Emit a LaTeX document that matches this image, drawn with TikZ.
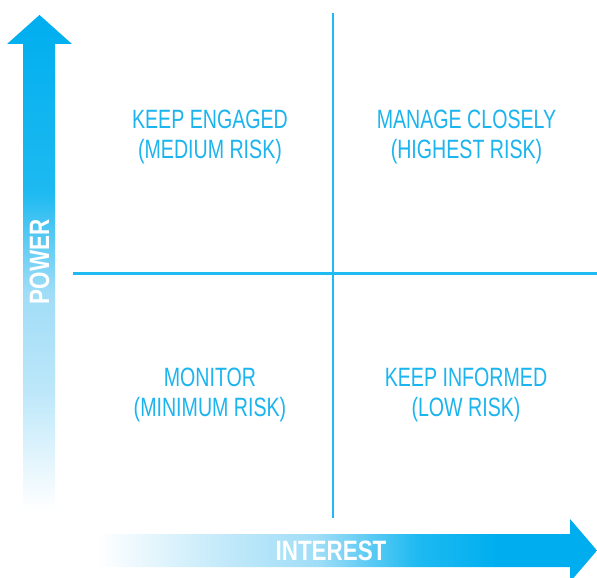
\documentclass[tikz,border=0pt]{standalone}
\usepackage{fontspec}
\setmainfont{Liberation Sans}[FakeStretch=0.74]
\newfontfamily\axisfont{Liberation Sans}[FakeStretch=0.8]
\definecolor{cyanA}{RGB}{0,174,239}
\definecolor{cyanB}{RGB}{30,186,241}
\definecolor{cyanL}{RGB}{160,221,247}
\definecolor{txtc}{RGB}{27,180,238}
\pgfdeclareverticalshading{vshade}{100bp}{
  color(0bp)=(white); color(25bp)=(white); color(37bp)=(cyanL!70!white);
  color(47bp)=(cyanL); color(57bp)=(cyanB); color(75bp)=(cyanA); color(100bp)=(cyanA)}
\pgfdeclarehorizontalshading{hshade}{100bp}{
  color(0bp)=(white); color(25bp)=(white); color(38bp)=(cyanL!65!white);
  color(47bp)=(cyanL); color(57bp)=(cyanB); color(65bp)=(cyanA); color(100bp)=(cyanA)}
\tikzset{
  quad/.style={text=txtc, font=\fontsize{26.5}{30}\selectfont, align=center, anchor=base, inner sep=0pt},
  axislabel/.style={text=white, font=\axisfont\bfseries\fontsize{28}{30}\selectfont, inner sep=0pt},
  divider/.style={draw=cyanB, line width=2.8pt}
}
\begin{document}
\begin{tikzpicture}[x=1pt,y=-1pt]
\useasboundingbox (0,0) rectangle (597,578);
% arrows
\shade[shading=vshade] (23,510) -- (23,44) -- (7,44) -- (39.5,15) -- (72,44) -- (55,44) -- (55,510) -- cycle;
\shade[shading=hshade] (97,534) -- (570,534) -- (570,519) -- (597,550.5) -- (570,582) -- (570,567) -- (97,567) -- cycle;
% dividers
\coordinate (vtop) at (333,13);
\coordinate (vbot) at (333,518);
\coordinate (hleft) at (73,273.5);
\coordinate (hright) at (597,273.5);
\draw[divider] (vtop) -- (vbot);
\draw[divider] (hleft) -- (hright);
% labels
\node[axislabel, rotate=90] (power) at (39.5,262) {POWER};
\node[axislabel] (interest) at (331,551) {INTEREST};
\node[quad] (q1) at (210,158) {KEEP ENGAGED\\(MEDIUM RISK)};
\node[quad] (q2) at (466.5,158) {MANAGE CLOSELY\\(HIGHEST RISK)};
\node[quad] (q3) at (210,416) {MONITOR\\(MINIMUM RISK)};
\node[quad] (q4) at (466,416) {KEEP INFORMED\\(LOW RISK)};
\end{tikzpicture}
\end{document}
